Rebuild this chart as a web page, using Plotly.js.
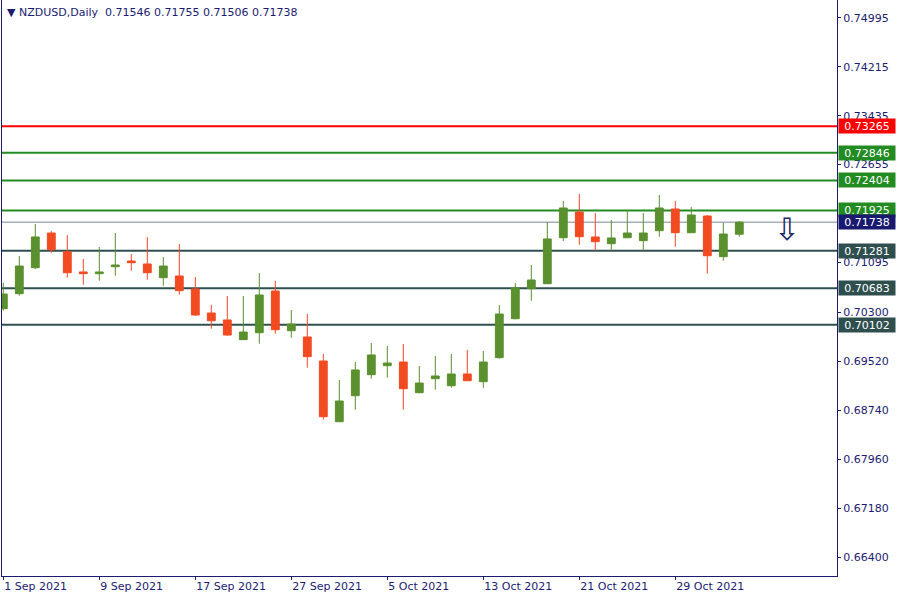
<!DOCTYPE html>
<html>
<head>
<meta charset="utf-8">
<script src="https://cdn.plot.ly/plotly-3.0.1.min.js"></script>
<style>html,body{margin:0;padding:0;background:#fff;}#chart{width:900px;height:600px;}</style>
</head>
<body>
<div id="chart"></div>
<script>
// ---- DATA ----
const symbol = "NZDUSD,Daily";
const dates = ["1 Sep 2021","2 Sep 2021","3 Sep 2021","6 Sep 2021","7 Sep 2021","8 Sep 2021","9 Sep 2021","10 Sep 2021",
  "13 Sep 2021","14 Sep 2021","15 Sep 2021","16 Sep 2021","17 Sep 2021","20 Sep 2021","21 Sep 2021","22 Sep 2021",
  "23 Sep 2021","24 Sep 2021","27 Sep 2021","28 Sep 2021","29 Sep 2021","30 Sep 2021","1 Oct 2021","4 Oct 2021",
  "5 Oct 2021","6 Oct 2021","7 Oct 2021","8 Oct 2021","11 Oct 2021","12 Oct 2021","13 Oct 2021","14 Oct 2021",
  "15 Oct 2021","18 Oct 2021","19 Oct 2021","20 Oct 2021","21 Oct 2021","22 Oct 2021","25 Oct 2021","26 Oct 2021",
  "27 Oct 2021","28 Oct 2021","29 Oct 2021","1 Nov 2021","2 Nov 2021","3 Nov 2021","4 Nov 2021"];
const open  = [0.70359,0.70598,0.71012,0.71565,0.71267,0.70944,0.70917,0.71028,0.71119,0.71071,0.70853,0.70880,
  0.70673,0.70290,0.70179,0.69865,0.69976,0.70641,0.70008,0.69908,0.69525,0.68557,0.68972,0.69307,
  0.69450,0.69509,0.69020,0.69243,0.69131,0.69318,0.69195,0.69578,0.70199,0.70677,0.70757,0.71490,
  0.71900,0.71502,0.71395,0.71490,0.71443,0.71602,0.71948,0.71570,0.71836,0.71188,0.71546];
const high  = [0.70773,0.71199,0.71709,0.71597,0.71533,0.71151,0.71342,0.71565,0.71231,0.71502,0.71183,0.71390,
  0.70864,0.70418,0.70561,0.70561,0.70928,0.70800,0.70338,0.70274,0.69637,0.69222,0.69509,0.69812,
  0.69764,0.69796,0.69445,0.69605,0.69637,0.69700,0.69684,0.70418,0.70768,0.71055,0.71736,0.72075,
  0.72187,0.71884,0.71773,0.71932,0.71884,0.72171,0.72075,0.71980,0.71852,0.71729,0.71755];
const low   = [0.70327,0.70566,0.70991,0.71251,0.70853,0.70741,0.70805,0.70885,0.70964,0.70821,0.70725,0.70582,
  0.70242,0.70040,0.69928,0.69860,0.69801,0.69960,0.69896,0.69418,0.68589,0.68557,0.68749,0.69243,
  0.69259,0.68749,0.69010,0.69068,0.69099,0.69205,0.69099,0.69562,0.70190,0.70486,0.70757,0.71438,
  0.71379,0.71283,0.71283,0.71485,0.71283,0.71506,0.71347,0.71565,0.70917,0.71124,0.71506];
const close = [0.70593,0.71039,0.71502,0.71299,0.70932,0.70917,0.70944,0.71055,0.71092,0.70932,0.71039,0.70646,
  0.70258,0.70167,0.69939,0.69987,0.70577,0.70024,0.70115,0.69594,0.68637,0.68887,0.69382,0.69621,
  0.69493,0.69083,0.69174,0.69286,0.69318,0.69211,0.69509,0.70274,0.70689,0.70816,0.71470,0.71964,
  0.71506,0.71427,0.71486,0.71565,0.71565,0.71964,0.71570,0.71852,0.71203,0.71549,0.71738];
const priceTicks = [0.74995,0.74215,0.73435,0.72655,0.71095,0.70300,0.69520,0.68740,0.67960,0.67180,0.66400];
const redLevels   = [0.73265];
const greenLevels = [0.72846,0.72404,0.71925];
const darkLevels  = [0.71281,0.70683,0.70102];
const bidLevel    = 0.71738;
const signalBar   = 49;      // bar index of the down-arrow signal
const signalPrice = 0.71629;

// ---- STYLE ----
const NAVY = "#1b1b72";
const UP = "#5a902e", DOWN = "#f24b22";
const FONT = "DejaVu Sans";

const idx = dates.map((d, i) => i);
const tickIdx = idx.filter(i => i % 6 === 0);

const trace = {
  type: "candlestick",
  x: idx, open: open, high: high, low: low, close: close,
  increasing: {line: {color: UP, width: 1}, fillcolor: UP},
  decreasing: {line: {color: DOWN, width: 1}, fillcolor: DOWN},
  whiskerwidth: 0,
  hoverinfo: "skip",
  showlegend: false
};

const shapes = [];
const annotations = [];
function level(v, lineColor, width, boxColor) {
  shapes.push({type: "line", xref: "paper", x0: 0, x1: 1, yref: "y", y0: v, y1: v,
    line: {color: lineColor, width: width}, layer: "below"});
  annotations.push({xref: "paper", x: 1, xanchor: "left", xshift: 1, yref: "y", y: v, yanchor: "middle",
    text: v.toFixed(5), showarrow: false, bgcolor: boxColor, width: 56, height: 14, borderpad: 0,
    align: "center", font: {family: FONT, size: 11, color: "#ffffff"}});
}
redLevels.forEach(v => level(v, "#ff0000", 2, "#ff0000"));
greenLevels.forEach(v => level(v, "#228b22", 2, "#228b22"));
darkLevels.forEach(v => level(v, "#2f4f4f", 2, "#2f4f4f"));
level(bidLevel, "#778899", 1, "#191970");

annotations.push({xref: "paper", yref: "paper", x: 0, y: 1, xanchor: "left", yanchor: "top", xshift: 3, yshift: -4,
  showarrow: false, align: "left",
  text: "\u25BC " + symbol + "  " + [open, high, low, close].map(a => a[a.length - 1].toFixed(5)).join(" "),
  font: {family: FONT, size: 11, color: NAVY}});
annotations.push({xref: "x", yref: "y", x: signalBar, y: signalPrice, showarrow: false,
  text: "\u21E9", font: {family: FONT, size: 31, color: "#1a2a66"}});

const layout = {
  width: 900, height: 600,
  margin: {l: 2, r: 63, t: 0, b: 24, pad: 0},
  paper_bgcolor: "#ffffff", plot_bgcolor: "#ffffff",
  font: {family: FONT, size: 11, color: NAVY},
  showlegend: false,
  xaxis: {
    range: [-0.081, 52.106], rangeslider: {visible: false},
    tickmode: "array", tickvals: tickIdx, ticktext: tickIdx.map(i => dates[i]),
    ticks: "outside", ticklen: 3, tickcolor: NAVY, ticklabelposition: "outside right",
    showgrid: false, zeroline: false, showline: true, linecolor: NAVY, linewidth: 1,
    tickfont: {family: FONT, size: 11, color: NAVY}, fixedrange: true
  },
  yaxis: {
    side: "right", range: [0.660979, 0.752793],
    tickmode: "array", tickvals: priceTicks, ticktext: priceTicks.map(v => v.toFixed(5)),
    ticks: "outside", ticklen: 3, tickcolor: NAVY,
    showgrid: false, zeroline: false, showline: true, linecolor: NAVY, linewidth: 1, mirror: true,
    tickfont: {family: FONT, size: 11, color: NAVY}, fixedrange: true
  },
  shapes: shapes,
  annotations: annotations
};

Plotly.newPlot("chart", [trace], layout, {displayModeBar: false, staticPlot: true});
</script>
</body>
</html>
